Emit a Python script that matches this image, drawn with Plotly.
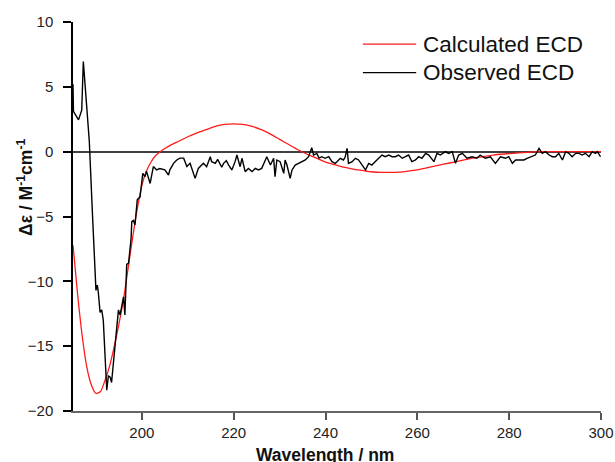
import plotly.graph_objects as go

# calculated ECD (smooth curve), wavelength in nm / delta epsilon
calc_wl = [185, 186, 187, 188, 189, 190, 191, 192, 193, 194, 195, 196, 197, 198, 199,
           200, 201, 202, 203, 204, 205, 206, 208, 210, 212, 214, 216, 218, 220, 222,
           224, 226, 228, 230, 232, 234, 236, 238, 240, 242, 244, 246, 248, 250, 252,
           254, 256, 258, 260, 262, 264, 266, 268, 270, 272, 274, 276, 278, 280, 282,
           284, 286, 290, 295, 300]
calc_de = [-7.2, -11.0, -14.2, -16.6, -18.0, -18.65, -18.5, -17.6, -16.5, -15.0, -13.3, -11.4, -9.0, -6.6, -4.4,
           -2.6, -1.5, -0.8, -0.3, 0.0, 0.25, 0.45, 0.8, 1.15, 1.45, 1.7, 1.95, 2.1, 2.15, 2.1,
           1.95, 1.7, 1.35, 0.95, 0.55, 0.15, -0.2, -0.5, -0.8, -1.0, -1.2, -1.35, -1.45, -1.55, -1.6,
           -1.6, -1.58, -1.5, -1.4, -1.25, -1.1, -0.95, -0.8, -0.65, -0.5, -0.4, -0.3, -0.2, -0.15, -0.1,
           -0.05, 0.0, 0.0, 0.0, 0.0]

# observed ECD (noisy measurement)
obs_wl = [185.0, 185.1, 186.2, 186.9, 187.25, 187.8, 188.55, 189.3, 190.0, 190.3,
          190.5, 190.9, 191.25, 191.6, 192.35, 192.7, 193.1, 193.4, 194.2, 194.9,
          195.25, 196.0, 196.3, 196.7, 197.1, 197.65, 197.8, 198.15, 198.5, 199.0,
          199.6, 200.2, 200.7, 201.0, 201.8, 202.5, 203.2, 203.9, 205.0, 205.8,
          206.1, 206.9, 207.6, 208.3, 209.1, 209.8, 210.5, 211.6, 212.3, 213.4,
          214.1, 214.9, 215.2, 216.0, 216.5, 217.0, 217.4, 217.8, 218.4, 218.9,
          219.6, 220.3, 220.7, 221.4, 221.8, 222.5, 223.2, 224.0, 224.7, 225.4,
          226.1, 226.9, 227.2, 228.0, 228.7, 229.0, 229.4, 230.1, 230.9, 231.2,
          231.6, 232.3, 232.7, 233.4, 234.1, 234.9, 235.6, 236.3, 237.0, 237.4,
          238.1, 238.6, 239.2, 239.9, 240.7, 241.4, 242.1, 242.5, 243.2, 243.9,
          244.3, 244.7, 245.0, 245.8, 246.5, 247.2, 247.9, 248.7, 249.4, 250.1,
          250.8, 251.6, 252.3, 253.0, 253.8, 254.5, 255.2, 255.9, 256.7, 257.4,
          258.1, 258.8, 259.6, 260.3, 261.0, 261.8, 262.5, 263.6, 264.3, 265.0,
          266.1, 266.8, 267.6, 268.3, 269.0, 269.8, 270.8, 271.9, 273.0, 273.7,
          274.8, 275.9, 277.0, 278.1, 279.2, 279.9, 280.7, 281.4, 282.1, 283.2,
          283.9, 285.0, 285.7, 286.5, 287.2, 287.9, 288.7, 289.4, 290.1, 290.8,
          291.6, 292.3, 293.0, 293.7, 294.5, 295.2, 295.9, 296.6, 297.4, 298.1,
          298.8, 299.2, 299.9]
obs_de = [5.2, 3.1, 2.45, 3.2, 6.95, 4.0, 0.8, -5.3, -10.7, -10.3,
          -10.8, -12.4, -12.2, -13.0, -18.4, -17.3, -17.4, -17.8, -14.5, -12.2,
          -12.6, -11.2, -12.6, -8.7, -8.6, -6.7, -5.4, -5.3, -5.66, -3.7,
          -3.5, -1.67, -1.93, -1.5, -2.45, -1.15, -1.4, -1.3, -1.4, -1.8,
          -1.4, -0.9, -0.64, -0.5, -0.5, -1.15, -0.9, -2.06, -1.29, -0.9,
          -1.16, -0.39, -0.77, -0.9, -0.6, -0.9, -1.2, -0.9, -0.7, -1.03,
          -1.41, -0.77, -0.26, -1.16, -0.51, -1.54, -1.29, -1.54, -1.29, -1.41,
          -1.29, -0.64, -0.39, -1.03, -0.51, -1.93, -0.64, -0.77, -1.67, -0.64,
          -1.03, -2.06, -1.41, -1.03, -0.9, -0.77, -0.64, -0.39, 0.3, -0.26,
          -0.13, -0.5, -0.39, -0.51, -0.39, -0.77, -0.9, -0.77, -0.51, -0.64,
          -0.39, 0.25, -0.9, -0.77, -0.51, -0.64, -1.03, -1.41, -0.9, -1.03,
          -0.77, -0.51, -0.26, -0.39, -0.26, -0.39, -0.39, -0.26, -0.51, -0.39,
          -0.26, -0.77, -0.64, -0.39, -0.51, -0.13, -0.26, -0.77, -0.13, -0.26,
          0.0, -0.13, 0.0, -0.9, -0.26, -0.13, -0.51, -0.39, -0.51, -0.26,
          -0.51, -0.39, -0.9, -0.39, -0.51, -0.39, -0.9, -0.64, -0.64, -0.64,
          -0.51, -0.39, -0.26, 0.26, -0.13, 0.0, -0.26, -0.39, -0.39, -0.13,
          -0.64, 0.0, -0.13, -0.39, -0.13, -0.13, -0.26, -0.13, -0.39, 0.0,
          -0.13, 0.0, -0.39]

series_names = ['Calculated ECD', 'Observed ECD']
series_colors = ['#ff1a1a', 'black']

calc_plot = go.Scatter(x=calc_wl, y=calc_de, mode='lines', name=series_names[0], showlegend=False,
                       line=dict(color=series_colors[0], width=1.3, shape='spline', smoothing=0.6))
obs_plot = go.Scatter(x=obs_wl, y=obs_de, mode='lines', name=series_names[1], showlegend=False,
                      line=dict(color=series_colors[1], width=1.4))

fig = go.Figure(data=[calc_plot, obs_plot])

font_family = 'Liberation Sans, Arial, sans-serif'
fig.update_layout(
    width=615, height=462,
    margin=dict(l=73, r=14, t=22, b=51),
    paper_bgcolor='white', plot_bgcolor='white',
    font=dict(family=font_family, size=15, color='#222'),
)
fig.update_xaxes(range=[185, 300], tickvals=[200, 220, 240, 260, 280, 300],
                 ticks='outside', ticklen=7, tickwidth=1.5, tickcolor='#555',
                 showline=True, linecolor='#666', linewidth=2, automargin=False,
                 showgrid=False, zeroline=False)
fig.update_yaxes(range=[-20, 10], tickvals=[-20, -15, -10, -5, 0, 5, 10],
                 ticks='outside', ticklen=8, tickwidth=1.5, tickcolor='black',
                 ticklabelstandoff=7, automargin=False,
                 showline=True, linecolor='black', linewidth=1.5,
                 showgrid=False, zeroline=True, zerolinecolor='#404040', zerolinewidth=2)

# legend drawn by hand so the line samples are as long as in the original
legend_rows = [0.943, 0.870]
for name, color, ly in zip(series_names, series_colors, legend_rows):
    fig.add_shape(type='line', xref='paper', yref='paper', x0=0.549, x1=0.650, y0=ly, y1=ly,
                  line=dict(color=color, width=1.3))
    fig.add_annotation(text=name, xref='paper', yref='paper', x=0.660, y=ly,
                       xanchor='left', yanchor='middle', showarrow=False,
                       font=dict(size=22.5, color='#111'))

fig.add_annotation(text='<b>Wavelength / nm</b>', xref='paper', yref='paper',
                   x=0.478, y=-0.083, xanchor='center', yanchor='top',
                   showarrow=False, font=dict(size=17.5, color='#111'))
fig.add_annotation(text='<b>Δε / M<sup>-1</sup>cm<sup>-1</sup></b>', xref='paper', yref='paper',
                   x=-0.091, y=0.576, xanchor='center', yanchor='middle', textangle=-90,
                   showarrow=False, font=dict(size=17.5, color='#111'))

# drop the default body margin so the figure sits at the window's corner
fig.write_html("out.html", config={'displayModeBar': False},
               post_script="document.body.style.margin='0';")
